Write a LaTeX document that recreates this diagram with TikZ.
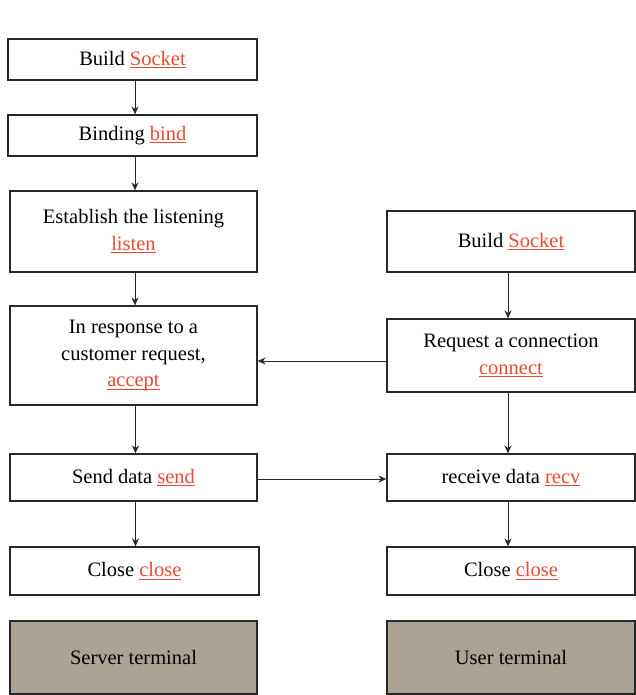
\documentclass[tikz,border=0pt]{standalone}
\usepackage{fontspec}
\setmainfont{Liberation Serif}
\usetikzlibrary{arrows.meta}

\definecolor{fnred}{RGB}{232,74,50}
\definecolor{termfill}{RGB}{171,164,148}
\definecolor{boxline}{RGB}{40,40,40}

% red, underlined function name
\newcommand{\fncall}[1]{{\color{fnred}\setbox0\hbox{#1}\rlap{\vrule width\wd0 height -2pt depth 2.9pt}\box0}}

\begin{document}
\begin{tikzpicture}[x=1pt,y=-1pt,
    stepbox/.style={draw=boxline, line width=1.2pt, fill=white, inner sep=0pt,
        align=center, font=\fontsize{20.5}{26.5}\selectfont},
    termbox/.style={stepbox, fill=termfill},
    flow/.style={draw=boxline, line width=1pt, -{Stealth[length=8pt,width=7pt]}}]
    \useasboundingbox (0,0) rectangle (635,695);

    % Server side
    \node[stepbox, minimum width=249pt, minimum height=41pt] (sockS) at (132.5,59.5) {Build \fncall{Socket}};
    \node[stepbox, minimum width=249pt, minimum height=41pt] (bindS) at (132.5,135.5) {Binding \fncall{bind}};
    \node[stepbox, minimum width=247pt, minimum height=81pt] (listenS) at (133.5,231.5) {Establish the listening\\\fncall{listen}};
    \node[stepbox, minimum width=247pt, minimum height=99pt] (acceptS) at (133.5,355.5) {In response to a\\customer request,\\\fncall{accept}};
    \node[stepbox, minimum width=247pt, minimum height=47pt] (sendS) at (133.5,477.5) {Send data \fncall{send}};
    \node[stepbox, minimum width=249pt, minimum height=48pt] (closeS) at (134.5,571) {Close \fncall{close}};
    \node[termbox, minimum width=247pt, minimum height=73pt] (server) at (133.5,657.5) {Server terminal};

    % Client side
    \node[stepbox, minimum width=248pt, minimum height=61pt] (sockC) at (511,241.5) {Build \fncall{Socket}};
    \node[stepbox, minimum width=248pt, minimum height=73pt] (connC) at (511,355.5) {Request a connection\\\fncall{connect}};
    \node[stepbox, minimum width=248pt, minimum height=47pt] (recvC) at (511,477.5) {receive data \fncall{recv}};
    \node[stepbox, minimum width=248pt, minimum height=48pt] (closeC) at (511,571) {Close \fncall{close}};
    \node[termbox, minimum width=248pt, minimum height=73pt] (user) at (511,657.5) {User terminal};

    % Server arrows
    \draw[flow] ([xshift=2.5pt]sockS.south) -- ([xshift=2.5pt]sockS.south |- bindS.north);
    \draw[flow] ([xshift=2.5pt]bindS.south) -- ([xshift=2.5pt]bindS.south |- listenS.north);
    \draw[flow] ([xshift=1.5pt]listenS.south) -- ([xshift=1.5pt]listenS.south |- acceptS.north);
    \draw[flow] ([xshift=2pt]acceptS.south) -- ([xshift=2pt]acceptS.south |- sendS.north);
    \draw[flow] ([xshift=2pt]sendS.south) -- ([xshift=2pt]sendS.south |- closeS.north);

    % Client arrows
    \draw[flow] ([xshift=-3pt]sockC.south) -- ([xshift=-3pt]connC.north);
    \draw[flow] ([xshift=-3pt]connC.south) -- ([xshift=-3pt]recvC.north);
    \draw[flow] ([xshift=-3pt]recvC.south) -- ([xshift=-3pt]closeC.north);

    % Across
    \draw[flow] ([yshift=-5.5pt]connC.west) -- ([yshift=-5.5pt]acceptS.east);
    \draw[flow] ([yshift=-1.5pt]sendS.east) -- ([yshift=-1.5pt]recvC.west);
\end{tikzpicture}
\end{document}
